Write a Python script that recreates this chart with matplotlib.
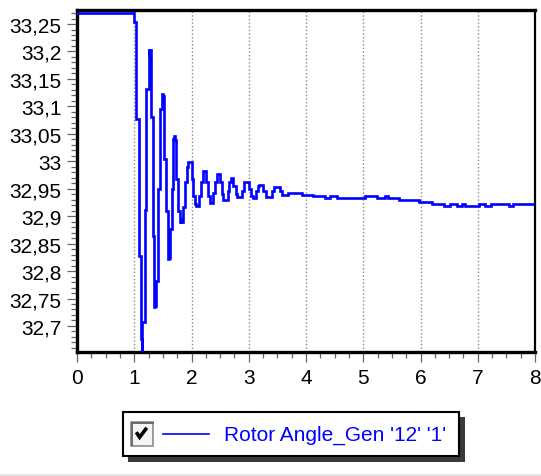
import matplotlib
matplotlib.use("Agg")
import matplotlib.pyplot as plt
from matplotlib.patches import Rectangle
from matplotlib.ticker import MultipleLocator, FixedLocator, FixedFormatter

plt.rcParams['font.family'] = ['Liberation Sans', 'DejaVu Sans']

# Rotor angle of generator '12' '1' (degrees) versus time (s), stored as step breakpoints
time_s = [
    0.00, 1.00, 1.03, 1.09, 1.12, 1.13, 1.14, 1.18, 1.21, 1.25,
    1.265, 1.275, 1.29, 1.32, 1.345, 1.355, 1.365, 1.38, 1.42, 1.45,
    1.48, 1.50, 1.51, 1.52, 1.555, 1.59, 1.605, 1.615, 1.625, 1.655,
    1.68, 1.70, 1.71, 1.73, 1.765, 1.80, 1.815, 1.825, 1.85, 1.88,
    1.895, 1.915, 1.945, 2.00, 2.03, 2.06, 2.08, 2.135, 2.16, 2.195,
    2.255, 2.295, 2.325, 2.38, 2.41, 2.44, 2.50, 2.54, 2.555, 2.63,
    2.66, 2.685, 2.73, 2.77, 2.80, 2.875, 2.915, 3.01, 3.04, 3.07,
    3.125, 3.165, 3.185, 3.255, 3.30, 3.40, 3.44, 3.545, 3.575, 3.69,
    3.925, 4.13, 4.33, 4.42, 4.535, 5.03, 5.24, 5.38, 5.44, 5.625,
    5.975, 6.205, 6.41, 6.515, 6.64, 6.725, 6.78, 7.02, 7.12, 7.23,
    7.545, 7.62, 8.00,
]
rotor_angle = [
    33.270, 33.254, 33.077, 32.828, 32.676, 32.652, 32.707, 32.911, 33.132, 33.204,
    33.194, 33.203, 33.081, 32.864, 32.734, 32.745, 32.736, 32.782, 32.949, 33.095,
    33.122, 33.110, 33.118, 33.004, 32.910, 32.822, 32.830, 32.824, 32.877, 32.949,
    33.041, 33.046, 33.038, 32.968, 32.910, 32.890, 32.897, 32.890, 32.917, 32.937,
    32.962, 32.990, 32.998, 32.968, 32.937, 32.922, 32.918, 32.937, 32.962, 32.983,
    32.962, 32.937, 32.924, 32.943, 32.962, 32.977, 32.962, 32.940, 32.930, 32.946,
    32.962, 32.969, 32.955, 32.940, 32.934, 32.946, 32.963, 32.949, 32.937, 32.933,
    32.946, 32.955, 32.957, 32.946, 32.934, 32.946, 32.954, 32.946, 32.938, 32.943,
    32.939, 32.936, 32.933, 32.936, 32.933, 32.936, 32.933, 32.936, 32.933, 32.930,
    32.925, 32.922, 32.919, 32.922, 32.919, 32.922, 32.919, 32.922, 32.919, 32.922,
    32.919, 32.922, 32.922,
]

x_ticks = [0, 1, 2, 3, 4, 5, 6, 7, 8]
x_tick_labels = ['0', '1', '2', '3', '4', '5', '6', '7', '8']
y_ticks = [32.7, 32.75, 32.8, 32.85, 32.9, 32.95, 33.0, 33.05, 33.1, 33.15, 33.2, 33.25]
y_tick_labels = ['32,7', '32,75', '32,8', '32,85', '32,9', '32,95', '33',
                 '33,05', '33,1', '33,15', '33,2', '33,25']
series_label = "Rotor Angle_Gen '12' '1'"

W, H = 541, 477
fig = plt.figure(figsize=(W / 100, H / 100), dpi=100)
fig.patch.set_facecolor('white')

ax = fig.add_axes([77 / W, 1 - 353.3 / H, 458 / W, 342 / H])
ax.plot(time_s, rotor_angle, drawstyle='steps-post', color='#0000FF',
        lw=1.9, solid_joinstyle='miter', zorder=3, clip_on=True)

ax.set_xlim(0, 8)
ax.set_ylim(32.652, 33.275)

ax.xaxis.set_major_locator(FixedLocator(x_ticks))
ax.xaxis.set_major_formatter(FixedFormatter(x_tick_labels))
ax.xaxis.set_minor_locator(MultipleLocator(0.25))
ax.yaxis.set_major_locator(FixedLocator(y_ticks))
ax.yaxis.set_major_formatter(FixedFormatter(y_tick_labels))
ax.yaxis.set_minor_locator(MultipleLocator(0.01))

ax.tick_params(axis='both', which='major', direction='out', length=7,
               width=0.9, color='#666666', labelsize=15, labelcolor='black')
ax.tick_params(axis='both', which='minor', direction='out', length=4.5,
               width=0.9, color='#666666')
ax.tick_params(axis='x', which='major', pad=4)
ax.tick_params(axis='y', which='major', pad=4)

ax.grid(True, axis='x', which='major', color='#8a8a8a', lw=1.0,
        linestyle=(0, (1, 1.6)), zorder=1)
ax.grid(False, axis='y')
ax.set_axisbelow(True)

for side in ('left', 'bottom', 'top'):
    ax.spines[side].set_linewidth(2.4)
    ax.spines[side].set_color('black')
ax.spines['right'].set_linewidth(1.6)
ax.spines['right'].set_color('black')

# Legend panel drawn in figure pixel coordinates
ov = fig.add_axes([0, 0, 1, 1], zorder=5)
ov.set_xlim(0, W)
ov.set_ylim(H, 0)
ov.axis('off')

ov.add_patch(Rectangle((0, 474.5), W, 3, facecolor='#e6e6e6', edgecolor='none'))

# drop shadow
ov.add_patch(Rectangle((127.5, 418), 337, 44.5, facecolor='#3a3a3a', edgecolor='none'))
ov.add_patch(Rectangle((122.7, 413.3), 336.6, 44, facecolor='white',
                       edgecolor='black', lw=1.5))

# check box
ov.add_patch(Rectangle((130.7, 423.3), 22.6, 23.4, facecolor='#f4f4f4',
                       edgecolor='#8a8a8a', lw=1.2))
ov.plot([131.5, 131.5, 152.5], [446, 424, 424], color='#6a6a6a', lw=1.4)
ov.plot([136.3, 139.6, 146.8], [433.2, 438.2, 428.8], color='black', lw=2.6,
        solid_capstyle='butt', solid_joinstyle='miter')

ov.plot([163.3, 209.3], [435, 435], color='#0000FF', lw=1.2)
ov.text(224, 435.5, series_label, color='#0000FF', fontsize=15,
        ha='left', va='center')

fig.savefig('out.png', dpi=100)
